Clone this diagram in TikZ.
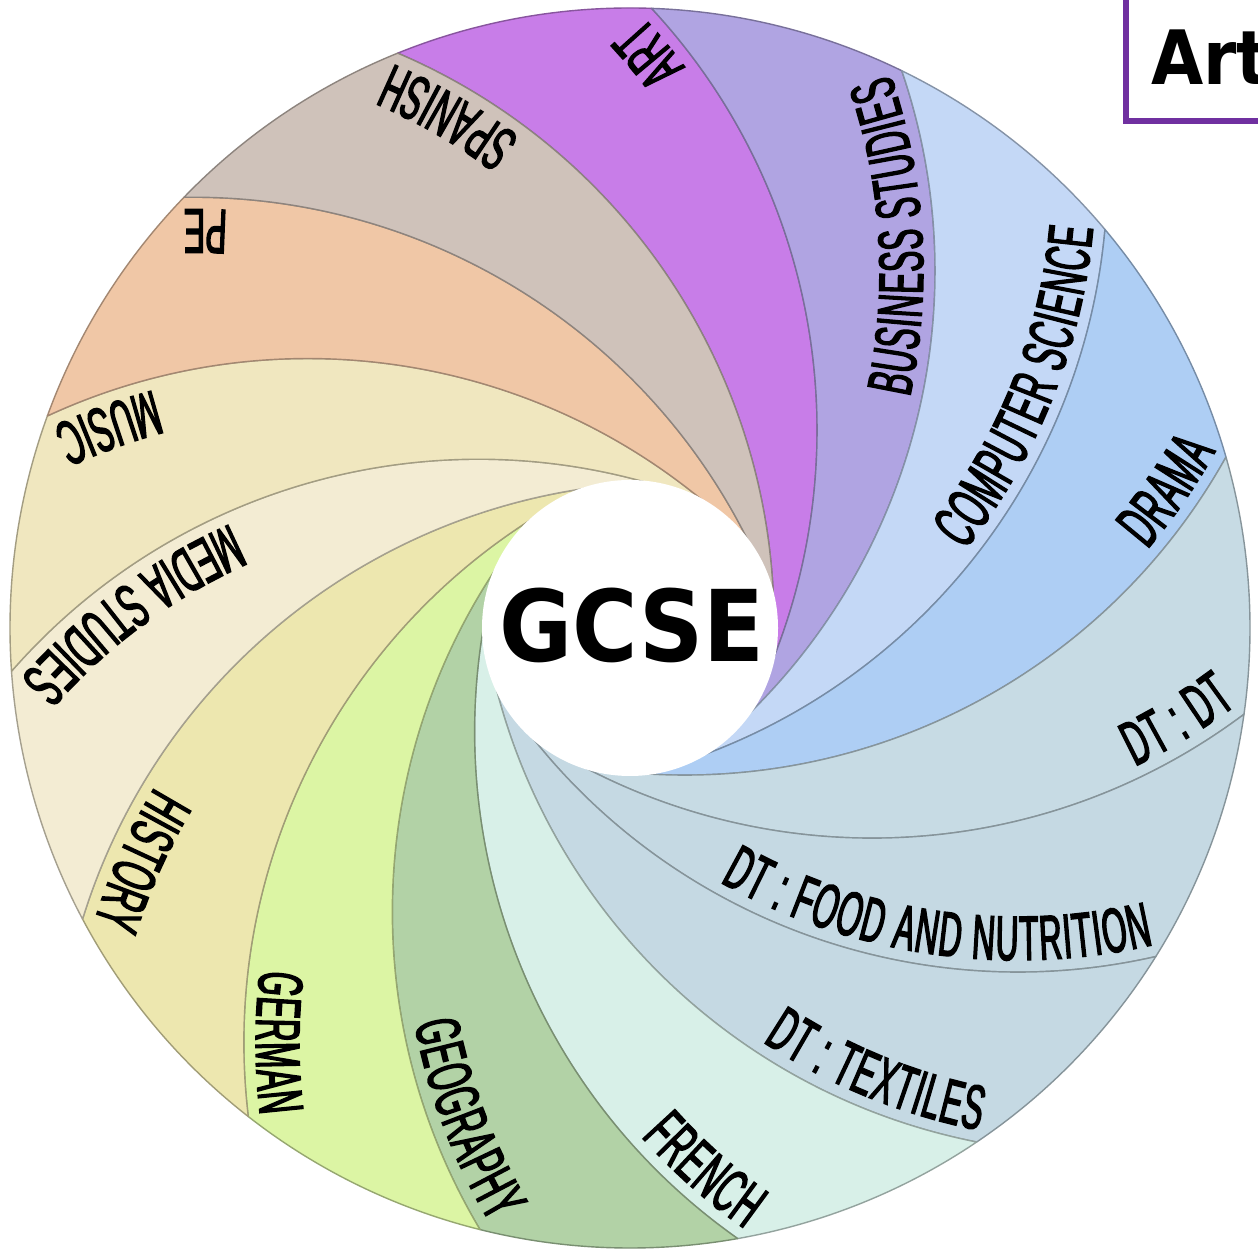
\documentclass[tikz,border=0pt]{standalone}
\usepackage{fontspec}
\usetikzlibrary{decorations.text,calc}
\setmainfont{DejaVu Sans}
\newfontfamily\handfont[FakeStretch=0.5,FakeBold=2.2]{Liberation Sans}
\newfontfamily\gcsefont[FakeStretch=0.9]{DejaVu Sans}
\newcommand\lbl{\handfont\fontsize{63}{63}\selectfont\kern1.5pt}

\definecolor{cArt}{RGB}{200,125,232}
\definecolor{cBus}{RGB}{176,164,226}
\definecolor{cCS}{RGB}{196,216,246}
\definecolor{cDrama}{RGB}{174,206,244}
\definecolor{cDTDT}{RGB}{199,219,228}
\definecolor{cFood}{RGB}{197,217,227}
\definecolor{cText}{RGB}{197,217,227}
\definecolor{cFrench}{RGB}{216,240,232}
\definecolor{cGeo}{RGB}{178,210,166}
\definecolor{cGer}{RGB}{220,245,164}
\definecolor{cHist}{RGB}{237,231,175}
\definecolor{cMedia}{RGB}{243,236,211}
\definecolor{cMusic}{RGB}{240,231,191}
\definecolor{cPE}{RGB}{240,199,166}
\definecolor{cSpan}{RGB}{207,194,186}
\definecolor{boxpurple}{RGB}{112,48,160}

\tikzset{
  region/.style={fill=#1, draw=#1!68!black, line width=1.4pt, line join=round},
  artbox/.style={draw=boxpurple, line width=6pt, fill=white},
}

% #1 = clockwise outer angle of the region, #2 = label text
\newcommand\sublabel[2]{%
  \path[decorate, decoration={text along path, text={|\lbl|#2},
        text align={align=right, right indent=12pt}}]
    ($(#1+67.43:476)+(#1-115:608)$)
    arc[start angle=#1-115, end angle=#1-44, radius=608];}

\begin{document}
\begin{tikzpicture}[x=1pt,y=1pt]
\useasboundingbox (0,0) rectangle (1258,1250);
\clip (0,0) rectangle (1258,1250);
\fill[white] (0,0) rectangle (1258,1250);

\begin{scope}[shift={(630,622)}]
  \foreach \th/\col in {88/cArt,64/cBus,40/cCS,16/cDrama,-8/cDTDT,-32/cFood,
      -56/cText,-80/cFrench,-104/cGeo,-128/cGer,-152/cHist,-176/cMedia,
      -200/cMusic,-224/cPE,-248/cSpan}
    \path[region=\col] (\th:620)
      arc[start angle=\th, end angle=\th+24, radius=620]
      arc[start angle=\th-21.15, end angle=\th-91.39, radius=620]
      arc[start angle=\th-109.76, end angle=\th-45.15, radius=620] -- cycle;

  \fill[white] (0,0) circle[radius=148];

  \sublabel{88}{ART}
  \sublabel{64}{BUSINESS STUDIES}
  \sublabel{40}{COMPUTER SCIENCE}
  \sublabel{16}{DRAMA}
  \sublabel{-8}{DT : DT}
  \sublabel{-32}{DT : FOOD AND NUTRITION}
  \sublabel{-56}{DT : TEXTILES}
  \sublabel{-80}{FRENCH}
  \sublabel{-104}{GEOGRAPHY}
  \sublabel{-128}{GERMAN}
  \sublabel{-152}{HISTORY}
  \sublabel{-176}{MEDIA STUDIES}
  \sublabel{-200}{MUSIC}
  \sublabel{-224}{PE}
  \sublabel{-248}{SPANISH}

  \node[anchor=base, inner sep=0pt] (gcse) at (2,-34)
    {\gcsefont\bfseries\fontsize{99}{99}\selectfont GCSE};
\end{scope}

\draw[artbox] (1126,1129) rectangle (1340,1340);
\node[anchor=base west, inner sep=0pt] (art) at (1151,1165)
  {\gcsefont\bfseries\fontsize{75}{75}\selectfont Art};
\end{tikzpicture}
\end{document}
